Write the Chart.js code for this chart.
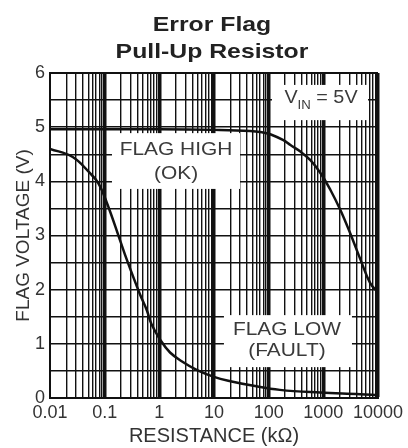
<!DOCTYPE html>
<html><head><meta charset="utf-8">
<script src="https://cdn.jsdelivr.net/npm/chart.js@4.4.1/dist/chart.umd.min.js"></script>
<style>html,body{margin:0;padding:0;background:#fff;}</style>
</head><body>
<canvas id="c" width="408" height="448"></canvas>
<script>
// ---- data ----
const titleLines = ['Error Flag', 'Pull-Up Resistor'];
const xTitle = 'RESISTANCE (kΩ)';
const yTitle = 'FLAG VOLTAGE (V)';
const xTickLabels = ['0.01', '0.1', '1', '10', '100', '1000', '10000'];
const yTickLabels = ['0', '1', '2', '3', '4', '5', '6'];

// FLAG HIGH (OK) curve: resistance kΩ / flag voltage V
const flagHighR = [0.01, 1, 10, 46, 80, 107, 186, 250, 380, 580, 890, 1350, 2050, 3100, 4800, 7200, 10000];
const flagHighV = [4.96, 4.96, 4.95, 4.93, 4.9, 4.87, 4.76, 4.67, 4.55, 4.39, 4.15, 3.84, 3.47, 3.04, 2.55, 2.12, 1.95];

// FLAG LOW (FAULT) curve
const flagLowR = [0.01, 0.026, 0.054, 0.076, 0.11, 0.19, 0.255, 0.44, 0.59, 0.72, 1.03, 1.57, 2.74, 4.8, 10, 20, 50, 160, 870, 4700, 10000];
const flagLowV = [4.6, 4.45, 4.15, 3.97, 3.6, 2.92, 2.55, 1.92, 1.62, 1.36, 1.08, 0.84, 0.66, 0.52, 0.39, 0.31, 0.23, 0.15, 0.10, 0.07, 0.05];

const noteLabels = [
  {lines: ['FLAG HIGH', '(OK)'], x: 2.02, y: [4.58, 4.13], box: [0.136, 29.9, 3.86, 4.89]},
  {lines: ['FLAG LOW', '(FAULT)'], x: 216, y: [1.25, 0.87], box: [15.2, 3340, 0.57, 1.53]}
];
const vinLabel = {main: 'V', sub: 'IN', rest: ' = 5V', x: 906, y: 5.44, box: [115, 6560, 5.13, 5.78]};

// ---- helpers ----
const FONT = '"Liberation Sans", Arial, Helvetica, sans-serif';
const decades = xTickLabels.map(Number);
const gridTicks = [];
decades.forEach((d, i) => {
  gridTicks.push(d);
  if (i < decades.length - 1) for (let m = 2; m <= 9; m++) gridTicks.push(+(d * m).toPrecision(6));
});
const isDecade = v => decades.some(d => Math.abs(d - v) / d < 1e-6);
const pts = (xs, ys) => xs.map((x, i) => ({x, y: ys[i]}));

function stretchText(ctx, text, x, y, sx, font, color, align, baseline) {
  ctx.save();
  ctx.font = font;
  ctx.fillStyle = color;
  ctx.textAlign = align || 'center';
  ctx.textBaseline = baseline || 'middle';
  ctx.translate(x, y);
  ctx.scale(sx, 1);
  ctx.fillText(text, 0, 0);
  ctx.restore();
}

const notesPlugin = {
  id: 'notes',
  beforeDatasetsDraw(chart) {
    const {ctx, scales: {x, y}} = chart;
    ctx.save();
    ctx.fillStyle = '#ffffff';
    [...noteLabels.map(n => n.box), vinLabel.box].forEach(b => {
      const x0 = x.getPixelForValue(b[0]), x1 = x.getPixelForValue(b[1]);
      const y0 = y.getPixelForValue(b[2]), y1 = y.getPixelForValue(b[3]);
      ctx.fillRect(x0, y1, x1 - x0, y0 - y1);
    });
    ctx.restore();
  },
  afterDatasetsDraw(chart) {
    const {ctx, scales: {x, y}} = chart;
    const col = '#3a3a3a';
    const f = '18.5px ' + FONT;
    noteLabels.forEach(n => {
      n.lines.forEach((t, i) => {
        stretchText(ctx, t, x.getPixelForValue(n.x), y.getPixelForValue(n.y[i]), 1.13, f, col);
      });
    });
    // V_IN = 5V
    ctx.save();
    const sx = 1.1;
    ctx.font = '18px ' + FONT;
    const w1 = ctx.measureText(vinLabel.main).width * sx;
    const w3 = ctx.measureText(vinLabel.rest).width * sx;
    ctx.font = '12px ' + FONT;
    const w2 = ctx.measureText(vinLabel.sub).width * sx;
    ctx.restore();
    let px = x.getPixelForValue(vinLabel.x) - (w1 + w2 + w3) / 2;
    const py = y.getPixelForValue(vinLabel.y);
    stretchText(ctx, vinLabel.main, px, py, sx, '18px ' + FONT, col, 'left', 'alphabetic');
    stretchText(ctx, vinLabel.sub, px + w1, py + 6, sx, '12px ' + FONT, col, 'left', 'alphabetic');
    stretchText(ctx, vinLabel.rest, px + w1 + w2, py, sx, '18px ' + FONT, col, 'left', 'alphabetic');
  },
  afterDraw(chart) {
    const {ctx, chartArea} = chart;
    const cx = (chartArea.left + chartArea.right) / 2;
    stretchText(ctx, titleLines[0], cx - 2, 31, 1.18, 'bold 21px ' + FONT, '#222', 'center', 'alphabetic');
    stretchText(ctx, titleLines[1], cx - 2, 58, 1.18, 'bold 21px ' + FONT, '#222', 'center', 'alphabetic');
  }
};

new Chart(document.getElementById('c'), {
  type: 'scatter',
  data: {
    datasets: [
      {label: 'FLAG HIGH (OK)', data: pts(flagHighR, flagHighV), showLine: true, borderColor: '#111', borderWidth: 2.5,
       pointRadius: 0, tension: 0.4, fill: false},
      {label: 'FLAG LOW (FAULT)', data: pts(flagLowR, flagLowV), showLine: true, borderColor: '#111', borderWidth: 2.5,
       pointRadius: 0, tension: 0.4, fill: false}
    ]
  },
  options: {
    responsive: false,
    animation: false,
    devicePixelRatio: 1,
    layout: {padding: {top: 73, right: 30, left: 0, bottom: 0}},
    plugins: {legend: {display: false}, tooltip: {enabled: false}, title: {display: false}},
    scales: {
      x: {
        type: 'logarithmic', min: 0.01, max: 10000,
        afterBuildTicks(scale) { scale.ticks = gridTicks.map(v => ({value: v, major: isDecade(v)})); },
        afterFit(scale) { scale.height = 50; },
        ticks: {
          autoSkip: false, maxRotation: 0, minRotation: 0, padding: 4, color: '#333',
          font: {family: FONT, size: 18},
          callback(v) { const i = decades.findIndex(d => Math.abs(d - v) / d < 1e-6); return i >= 0 ? xTickLabels[i] : ''; }
        },
        grid: {
          drawTicks: false, color: '#111',
          lineWidth: ctx => (ctx.tick && isDecade(ctx.tick.value) ? (ctx.index === 0 ? 2 : 3.5) : 1.4)
        },
        border: {display: true, color: '#111', width: 2},
        title: {display: true, text: xTitle, color: '#333', font: {family: FONT, size: 20}, padding: {top: 0, bottom: 0}}
      },
      y: {
        type: 'linear', min: 0, max: 6,
        ticks: {
          stepSize: 0.5, autoSkip: false, padding: 5, color: '#333',
          font: {family: FONT, size: 18},
          callback(v) { return Number.isInteger(v) ? yTickLabels[v] : ''; }
        },
        afterFit(scale) { scale.width = 50; },
        grid: {drawTicks: false, color: '#111', lineWidth: ctx => (ctx.tick && ctx.tick.value === 6 ? 2 : 1.4)},
        border: {display: true, color: '#111', width: 2},
        title: {display: true, text: yTitle, color: '#333', font: {family: FONT, size: 19}, padding: {top: 12, bottom: 0}}
      }
    }
  },
  plugins: [notesPlugin]
});
</script>
</body></html>
